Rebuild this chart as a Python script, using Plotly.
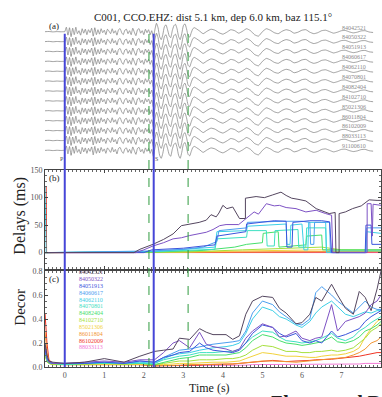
import plotly.graph_objects as go

# ---------------- data ----------------
event_ids = ["84042521", "84050322", "84051913", "84060617", "84062110", "84070801",
             "84082404", "84102710", "85021306", "86011804", "86102009", "88033113",
             "91100610"]
series_ids = event_ids[:12]
series_colors = ["#54465f", "#7d52c4", "#3b55dc", "#4b9ff0", "#3ccfe6", "#3fe0c2",
                 "#46e06c", "#a6e03c", "#f2d23c", "#f29432", "#f03424", "#f27ad6"]

# template seismogram (time s, normalised amplitude)
wave_t = [-0.5, -0.4, -0.3, -0.2, -0.1, -0.02,
          0.00, 0.04, 0.08, 0.12, 0.16, 0.20, 0.24, 0.28, 0.32, 0.36, 0.40, 0.44, 0.48,
          0.52, 0.56, 0.60, 0.64, 0.68, 0.72, 0.76, 0.80, 0.84, 0.88, 0.92, 0.96, 1.00,
          1.04, 1.08, 1.12, 1.16, 1.20, 1.24, 1.28, 1.32, 1.36, 1.40, 1.44, 1.48, 1.52,
          1.56, 1.60, 1.64, 1.68, 1.72, 1.76, 1.80, 1.84, 1.88, 1.92, 1.96, 2.00, 2.04,
          2.08, 2.12, 2.16, 2.20, 2.24, 2.28, 2.32, 2.36, 2.40, 2.44, 2.48, 2.52, 2.56,
          2.60, 2.64, 2.68, 2.72, 2.76, 2.80, 2.84, 2.88, 2.92, 2.96, 3.00, 3.04, 3.08,
          3.12, 3.16, 3.20, 3.24, 3.28,
          3.4, 3.5, 3.6, 3.7, 3.8, 3.9, 4.0, 4.1, 4.2, 4.3, 4.4, 4.5, 4.6, 4.7, 4.8,
          4.9, 5.0, 5.1, 5.2, 5.3, 5.4, 5.5, 5.6, 5.7, 5.8, 5.9, 6.0, 6.1, 6.2, 6.3,
          6.4, 6.5, 6.6, 6.7, 6.8, 6.9, 7.0, 7.1, 7.2, 7.3, 7.4, 7.5, 7.6, 7.7, 7.8]
wave_a = [0.0, 0.02, -0.02, 0.01, -0.01, 0.0,
          0.0, 0.45, -0.35, 0.4, -0.5, 0.35, -0.3, 0.45, -0.2, 0.1, -0.35, 0.3, -0.15,
          0.25, -0.3, 0.2, -0.1, 0.35, -0.45, 0.4, -0.3, 0.2, -0.25, 0.3, -0.1, 0.15,
          -0.3, 0.25, 0.05, -0.2, 0.3, -0.15, 0.1, -0.35, 0.2, 0.3, -0.1, -0.3, 0.15,
          0.25, -0.2, 0.1, -0.3, 0.35, -0.05, -0.4, 0.2, 0.3, -0.15, 0.1, -0.3, 0.25,
          -0.1, 0.2, -0.3, 0.1, -0.6, 0.2, 0.85, 0.4, -0.5, -0.8, -0.3, 0.5, 0.7,
          0.2, -0.4, -0.6, 0.1, 0.6, 0.75, 0.3, -0.5, -0.8, -0.2, 0.6, 0.8, 0.3,
          -0.4, -0.55, -0.1, 0.3, 0.4,
          0.1, -0.2, 0.05, 0.25, 0.15, -0.1, -0.25, -0.05, 0.2, 0.1, -0.15, 0.05, 0.3, 0.1, -0.3,
          -0.45, 0.0, 0.3, 0.15, -0.1, -0.2, 0.05, 0.2, 0.1, -0.15, -0.05, 0.15, 0.2, -0.05, -0.2,
          -0.1, 0.1, 0.15, 0.0, -0.15, -0.05, 0.1, 0.12, -0.02, -0.12, -0.05, 0.08, 0.1, -0.03, -0.08]

# delays (ms) per event
delay_t_84042521 = [-0.5, 1.75, 1.9, 2.23, 2.5, 2.74, 2.95, 3.16, 3.4, 3.58, 3.7, 3.83, 3.9, 4.0, 4.1,
                    4.25, 4.35, 4.42, 4.57, 4.57, 4.84, 5.05, 5.26, 5.47, 5.6, 5.74, 5.9, 6.1, 6.36,
                    6.5, 6.69, 6.84, 6.86, 6.94, 6.94, 7.1, 7.28, 7.5, 7.7, 7.9, 8.0]
delay_v_84042521 = [0, 0, 6, 15, 24, 34, 49, 52, 55, 59, 69, 65, 72, 86, 80, 83, 70, 62, 62, 99,
                    102, 100, 105, 110, 104, 99, 97, 94, 80, 76, 71, 73, 0, 0, 71, 74, 80, 85, 96, 95, 95]
delay_t_84050322 = [-0.5, 1.8, 2.0, 2.23, 2.5, 2.74, 2.95, 3.16, 3.58, 3.75, 3.92, 4.08, 4.4, 4.6, 4.79,
                    4.9, 5.1, 5.3, 5.43, 5.6, 5.85, 6.1, 6.36, 6.6, 6.75, 6.78, 7.65, 7.65, 7.75, 7.78,
                    7.8, 8.0]
delay_v_84050322 = [0, 0, 5, 12, 18, 25, 27, 31, 37, 42, 49, 51, 51, 62, 74, 70, 89, 85, 86, 82,
                    80, 74, 77, 71, 68, 0, 0, 89, 89, 30, 88, 86]
delay_t_84051913 = [-0.5, 2.0, 2.2, 3.0, 3.5, 3.8, 3.85, 4.3, 4.58, 4.6, 5.0, 5.3, 5.6, 5.62, 5.75,
                    5.77, 6.2, 6.5, 6.7, 6.75, 7.6, 7.62, 7.75, 7.77, 8.0]
delay_v_84051913 = [0, 0, 5, 8, 12, 14, 30, 35, 38, 52, 55, 58, 57, 10, 10, 55, 58, 58, 56, 0,
                    0, 50, 50, 15, 15]
delay_t_84060617 = [-0.5, 2.2, 3.0, 3.5, 3.85, 3.9, 4.6, 4.62, 5.5, 6.0, 6.2, 6.22, 6.3, 6.32, 6.7,
                    6.72, 7.62, 7.64, 8.0]
delay_v_84060617 = [0, 3, 6, 10, 20, 40, 45, 55, 57, 57, 55, 15, 15, 55, 55, 0, 0, 45, 45]
delay_t_84062110 = [-0.5, -0.48, -0.47, 2.3, 3.2, 3.8, 3.85, 4.6, 4.62, 5.2, 5.6, 5.62, 5.7, 5.72,
                    6.0, 6.05, 6.15, 6.17, 6.6, 6.62, 7.62, 7.64, 8.0]
delay_v_84062110 = [120, 60, 0, 2, 6, 10, 38, 40, 48, 50, 52, 15, 15, 50, 52, 5, 5, 55, 55, 0,
                    0, 38, 35]
delay_t_84070801 = [-0.5, 2.3, 3.8, 3.85, 4.6, 4.62, 5.1, 5.12, 5.3, 5.32, 5.9, 5.92, 6.1, 6.12,
                    6.6, 6.62, 8.0]
delay_v_84070801 = [0, 2, 6, 25, 28, 40, 40, 12, 12, 40, 42, 10, 10, 45, 45, 3, 3]
delay_t_84082404 = [-0.5, 2.3, 3.5, 4.3, 4.6, 5.0, 5.02, 5.4, 5.42, 5.8, 6.1, 6.12, 6.5, 6.52, 8.0]
delay_v_84082404 = [0, 1, 4, 10, 15, 18, 35, 38, 10, 12, 14, 30, 32, 5, 5]
delay_t_84102710 = [-0.5, 3.0, 4.5, 5.5, 6.5, 7.0, 8.0]
delay_v_84102710 = [0, 1, 5, 8, 10, 5, 5]
delay_t_85021306 = [-0.5, 3.0, 4.5, 5.5, 6.5, 8.0]
delay_v_85021306 = [0, 1, 3, 4, 5, 3]
delay_t_86011804 = [-0.5, 3.0, 5.0, 6.5, 8.0]
delay_v_86011804 = [0, 1, 2, 2, 2]
delay_t_86102009 = [-0.5, -0.47, -0.46, 3.0, 6.0, 8.0]
delay_v_86102009 = [120, 120, 0, 0.5, 1, 1]
delay_t_88033113 = [-0.5, 8.0]
delay_v_88033113 = [0, 0]

# decorrelation per event, on a shared time grid
decor_t = [-0.5, -0.45, -0.4, -0.3, 0.0, 0.5, 1.0, 1.5, 1.9, 2.27, 2.5, 2.74, 2.9, 3.16, 3.41,
           3.58, 3.75, 4.08, 4.25, 4.42, 4.58, 4.75, 5.0, 5.26, 5.43, 5.6, 5.85, 6.0, 6.2, 6.35,
           6.5, 6.75, 6.9, 7.1, 7.3, 7.45, 7.6, 7.75, 7.9, 8.0]
decor_84042521 = [0.2, 0.1, 0.05, 0.04, 0.03, 0.04, 0.07, 0.04, 0.09, 0.13, 0.14, 0.15, 0.24, 0.23, 0.32,
                  0.29, 0.27, 0.27, 0.23, 0.26, 0.44, 0.55, 0.59, 0.58, 0.49, 0.45, 0.36, 0.37, 0.44, 0.58,
                  0.55, 0.69, 0.6, 0.49, 0.44, 0.63, 0.58, 0.47, 0.65, 0.8]
decor_84050322 = [0.18, 0.08, 0.04, 0.03, 0.03, 0.04, 0.05, 0.04, 0.06, 0.06, 0.12, 0.2, 0.22, 0.16, 0.29,
                  0.19, 0.17, 0.15, 0.13, 0.15, 0.24, 0.3, 0.36, 0.33, 0.25, 0.26, 0.3, 0.24, 0.22, 0.24,
                  0.25, 0.52, 0.3, 0.38, 0.4, 0.42, 0.45, 0.52, 0.55, 0.6]
decor_84051913 = [0.15, 0.07, 0.04, 0.03, 0.03, 0.03, 0.04, 0.03, 0.05, 0.04, 0.08, 0.1, 0.12, 0.13, 0.2,
                  0.16, 0.14, 0.13, 0.12, 0.14, 0.2, 0.28, 0.35, 0.33, 0.28, 0.25, 0.28, 0.22, 0.2, 0.22,
                  0.2, 0.3, 0.25, 0.27, 0.3, 0.32, 0.38, 0.42, 0.45, 0.47]
decor_84060617 = [0.15, 0.07, 0.04, 0.03, 0.03, 0.03, 0.04, 0.03, 0.05, 0.04, 0.08, 0.12, 0.14, 0.15, 0.17,
                  0.18, 0.19, 0.2, 0.21, 0.22, 0.3, 0.45, 0.55, 0.52, 0.46, 0.42, 0.36, 0.35, 0.4, 0.62,
                  0.67, 0.6, 0.55, 0.5, 0.45, 0.5, 0.55, 0.5, 0.48, 0.48]
decor_84062110 = [0.14, 0.06, 0.04, 0.03, 0.03, 0.03, 0.04, 0.03, 0.04, 0.03, 0.07, 0.1, 0.11, 0.12, 0.14,
                  0.15, 0.16, 0.17, 0.18, 0.2, 0.28, 0.4, 0.5, 0.47, 0.42, 0.4, 0.35, 0.33, 0.38, 0.45,
                  0.5, 0.55, 0.5, 0.44, 0.42, 0.44, 0.46, 0.45, 0.47, 0.47]
decor_84070801 = [0.13, 0.06, 0.04, 0.03, 0.02, 0.03, 0.03, 0.03, 0.03, 0.03, 0.06, 0.08, 0.09, 0.1, 0.12,
                  0.12, 0.12, 0.13, 0.13, 0.15, 0.2, 0.25, 0.3, 0.29, 0.25, 0.22, 0.21, 0.2, 0.21, 0.22,
                  0.24, 0.28, 0.24, 0.22, 0.25, 0.3, 0.33, 0.37, 0.4, 0.42]
decor_84082404 = [0.12, 0.05, 0.03, 0.03, 0.02, 0.03, 0.03, 0.03, 0.03, 0.02, 0.04, 0.06, 0.07, 0.08, 0.1,
                  0.1, 0.1, 0.1, 0.11, 0.12, 0.16, 0.22, 0.27, 0.25, 0.22, 0.2, 0.19, 0.18, 0.19, 0.2,
                  0.21, 0.25, 0.21, 0.2, 0.22, 0.25, 0.3, 0.32, 0.35, 0.38]
decor_84102710 = [0.1, 0.05, 0.03, 0.02, 0.02, 0.02, 0.03, 0.02, 0.03, 0.02, 0.03, 0.04, 0.05, 0.05, 0.06,
                  0.06, 0.06, 0.07, 0.07, 0.08, 0.1, 0.14, 0.18, 0.17, 0.15, 0.13, 0.13, 0.12, 0.12, 0.13,
                  0.13, 0.14, 0.13, 0.14, 0.16, 0.2, 0.24, 0.3, 0.33, 0.36]
decor_85021306 = [0.1, 0.04, 0.03, 0.02, 0.02, 0.02, 0.02, 0.02, 0.02, 0.015, 0.02, 0.025, 0.03, 0.03, 0.035,
                  0.035, 0.04, 0.04, 0.045, 0.05, 0.07, 0.09, 0.12, 0.11, 0.1, 0.09, 0.09, 0.085, 0.08, 0.08,
                  0.09, 0.1, 0.1, 0.11, 0.13, 0.16, 0.25, 0.32, 0.38, 0.4]
decor_86011804 = [0.3, 0.12, 0.05, 0.03, 0.02, 0.02, 0.02, 0.02, 0.02, 0.01, 0.01, 0.015, 0.015, 0.02, 0.02,
                  0.02, 0.02, 0.02, 0.025, 0.03, 0.035, 0.04, 0.05, 0.05, 0.045, 0.045, 0.04, 0.045, 0.05, 0.055,
                  0.06, 0.07, 0.07, 0.08, 0.1, 0.12, 0.15, 0.2, 0.22, 0.25]
decor_86102009 = [0.45, 0.2, 0.06, 0.03, 0.02, 0.02, 0.02, 0.02, 0.02, 0.01, 0.01, 0.01, 0.012, 0.015, 0.015,
                  0.02, 0.02, 0.02, 0.025, 0.03, 0.035, 0.04, 0.05, 0.055, 0.05, 0.045, 0.05, 0.05, 0.055, 0.06,
                  0.06, 0.065, 0.07, 0.075, 0.08, 0.09, 0.1, 0.11, 0.12, 0.12]
decor_88033113 = [0.15, 0.06, 0.03, 0.02, 0.02, 0.02, 0.02, 0.02, 0.02, 0.01, 0.01, 0.01, 0.01, 0.01, 0.01,
                  0.01, 0.01, 0.015, 0.015, 0.015, 0.015, 0.02, 0.02, 0.02, 0.02, 0.02, 0.02, 0.02, 0.02, 0.02,
                  0.02, 0.02, 0.02, 0.02, 0.025, 0.025, 0.03, 0.03, 0.03, 0.03]

p_time = 0.0
s_time = 2.25
window_times = [2.13, 3.12]
x_ticks = [0, 1, 2, 3, 4, 5, 6, 7, 8]
delay_ticks = [0, 50, 100, 150]
decor_ticks = [0.0, 0.2, 0.4, 0.6, 0.8]

delay_t = [delay_t_84042521, delay_t_84050322, delay_t_84051913, delay_t_84060617, delay_t_84062110,
           delay_t_84070801, delay_t_84082404, delay_t_84102710, delay_t_85021306, delay_t_86011804,
           delay_t_86102009, delay_t_88033113]
delay_v = [delay_v_84042521, delay_v_84050322, delay_v_84051913, delay_v_84060617, delay_v_84062110,
           delay_v_84070801, delay_v_84082404, delay_v_84102710, delay_v_85021306, delay_v_86011804,
           delay_v_86102009, delay_v_88033113]
decor_v = [decor_84042521, decor_84050322, decor_84051913, decor_84060617, decor_84062110,
           decor_84070801, decor_84082404, decor_84102710, decor_85021306, decor_86011804,
           decor_86102009, decor_88033113]

# ---------------- figure ----------------
W, H = 382, 397
SERIF = "Liberation Serif, Times New Roman, serif"
fig = go.Figure()

# panel (a): waveforms
for i, eid in enumerate(event_ids):
    fig.add_trace(go.Scatter(x=wave_t, y=[a - i for a in wave_a], mode="lines",
                             line=dict(color="#7a7a7a", width=0.7, shape="spline", smoothing=0.5),
                             xaxis="x3", yaxis="y3", showlegend=False, hoverinfo="skip"))
    fig.add_annotation(x=7.66, y=-i + 0.42, xref="x3", yref="y3", text=eid, showarrow=False,
                       xanchor="right", yanchor="middle",
                       font=dict(family=SERIF, size=6, color="#8a8a8a"))

# panel (b): delays (draw reversed so first event on top)
for k in reversed(range(len(series_ids))):
    fig.add_trace(go.Scatter(x=delay_t[k], y=delay_v[k], mode="lines",
                             line=dict(color=series_colors[k], width=1),
                             xaxis="x2", yaxis="y2", showlegend=False, hoverinfo="skip"))

# panel (c): decorrelation
for k in reversed(range(len(series_ids))):
    fig.add_trace(go.Scatter(x=decor_t, y=decor_v[k], mode="lines",
                             line=dict(color=series_colors[k], width=1),
                             xaxis="x", yaxis="y", showlegend=False, hoverinfo="skip"))

# in-panel legend of (c)
for k, eid in enumerate(series_ids):
    fig.add_annotation(x=0.32, y=0.79 - k * 0.057, xref="x", yref="y", text=eid,
                       showarrow=False, xanchor="left", yanchor="middle",
                       font=dict(family=SERIF, size=6, color=series_colors[k]))

# pixel helpers
PL, PR, PB = 45, 1, 30
plot_h = H - PB


def py(pix):
    return (plot_h - pix) / plot_h


def px(pix):
    return (pix - PL) / (W - PL - PR)


# vertical markers across all panels
for t in [p_time, s_time]:
    fig.add_shape(type="line", xref="x", yref="paper", x0=t, x1=t, y0=0, y1=py(30),
                  line=dict(color="#4646d8", width=2))
for t in window_times:
    fig.add_shape(type="line", xref="x", yref="paper", x0=t, x1=t, y0=0, y1=py(25),
                  line=dict(color="#2f9a3f", width=1, dash="dash"))

axis_common = dict(range=[-0.5, 8.0], showgrid=False, zeroline=False, showline=True,
                   linecolor="#444", linewidth=1, mirror="allticks", ticks="inside",
                   ticklen=3, tickcolor="#444",
                   minor=dict(ticks="inside", dtick=0.1, ticklen=2, tickcolor="#666"))

fig.update_layout(
    width=W, height=H, margin=dict(l=PL, r=PR, t=0, b=PB),
    plot_bgcolor="white", paper_bgcolor="white",
    xaxis=dict(**axis_common, domain=[0, 1], anchor="y", tickvals=x_ticks,
               tickfont=dict(family=SERIF, size=8, color="#555")),
    yaxis=dict(domain=[0, py(270)], anchor="x", range=[0, 0.8], tickvals=decor_ticks,
               tickformat=".1f", showgrid=False, zeroline=False, showline=True,
               linecolor="#444", mirror="allticks", ticks="inside", ticklen=3, tickcolor="#444",
               minor=dict(ticks="inside", dtick=0.05, ticklen=2, tickcolor="#666"),
               tickfont=dict(family=SERIF, size=8, color="#555")),
    xaxis2=dict(**axis_common, domain=[0, 1], anchor="y2", showticklabels=False, tickvals=x_ticks),
    yaxis2=dict(domain=[py(268), py(168)], anchor="x2", range=[-30, 150], tickvals=delay_ticks,
                showgrid=False, zeroline=False, showline=True, linecolor="#444",
                mirror="allticks", ticks="inside", ticklen=3, tickcolor="#444",
                minor=dict(ticks="inside", dtick=10, ticklen=2, tickcolor="#666"),
                tickfont=dict(family=SERIF, size=8, color="#555")),
    xaxis3=dict(domain=[0, 1], anchor="y3", range=[-0.5, 8.0], visible=False),
    yaxis3=dict(domain=[py(160), py(18)], anchor="x3", range=[-13.2, 1.0], visible=False),
)

# texts
fig.add_annotation(x=0.5, y=py(13), xref="paper", yref="paper", showarrow=False,
                   text="C001, CCO.EHZ: dist 5.1 km, dep 6.0 km, baz 115.1°",
                   font=dict(family=SERIF, size=11, color="#222"), xanchor="center", yanchor="middle")
for label, ypix in [("(a)", 22), ("(b)", 176), ("(c)", 278)]:
    fig.add_annotation(x=px(47), y=py(ypix), xref="paper", yref="paper", text=label,
                       showarrow=False, xanchor="left", yanchor="middle",
                       font=dict(family=SERIF, size=9, color="#222"))
fig.add_annotation(x=p_time - 0.08, y=-12.9, xref="x3", yref="y3", text="P", showarrow=False,
                   font=dict(family=SERIF, size=6, color="#555"))
fig.add_annotation(x=s_time + 0.08, y=-12.9, xref="x3", yref="y3", text="S", showarrow=False,
                   font=dict(family=SERIF, size=6, color="#555"))
fig.add_annotation(x=px(20), y=py(214), xref="paper", yref="paper", text="Delays (ms)",
                   textangle=-90, showarrow=False, xanchor="center", yanchor="middle",
                   font=dict(family=SERIF, size=16, color="#222"))
fig.add_annotation(x=px(20), y=py(307), xref="paper", yref="paper", text="Decor",
                   textangle=-90, showarrow=False, xanchor="center", yanchor="middle",
                   font=dict(family=SERIF, size=15, color="#222"))
fig.add_annotation(x=px(209), y=py(388), xref="paper", yref="paper", text="Time (s)",
                   showarrow=False, xanchor="center", yanchor="middle",
                   font=dict(family=SERIF, size=12, color="#222"))
fig.add_annotation(x=px(268), y=py(390), xref="paper", yref="paper", text="<b>Zhang and Beroza</b>",
                   showarrow=False, xanchor="left", yanchor="top",
                   font=dict(family=SERIF, size=20, color="#222"))

fig.write_html("out.html", config={"displayModeBar": False},
               post_script="document.body.style.margin='0';document.body.style.overflow='hidden';")
